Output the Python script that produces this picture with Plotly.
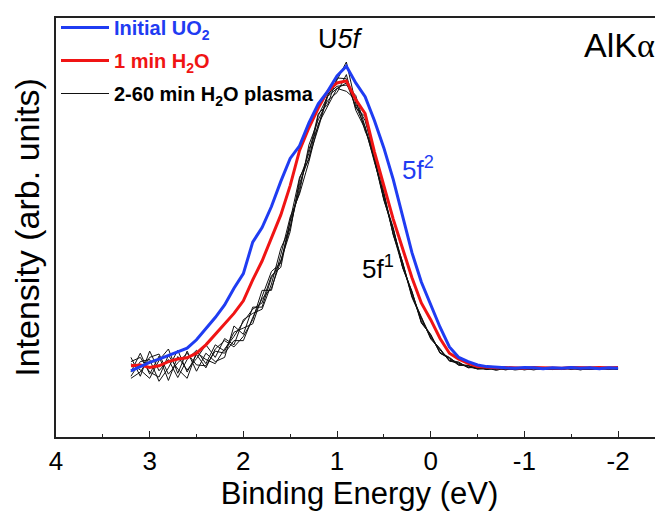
import plotly.graph_objects as go

binding_energy = [3.2, 3.1, 3.0, 2.9, 2.8, 2.7, 2.6, 2.5, 2.4, 2.3,
                  2.2, 2.1, 2.0, 1.9, 1.8, 1.7, 1.6, 1.5, 1.4, 1.3,
                  1.2, 1.1, 1.0, 0.9, 0.8, 0.7, 0.6, 0.5, 0.4, 0.3,
                  0.2, 0.1, 0.0, -0.1, -0.2, -0.3, -0.4, -0.5, -0.6, -0.7,
                  -0.8, -0.9, -1.0, -1.1, -1.2, -1.3, -1.4, -1.5, -1.6, -1.7,
                  -1.8, -1.9, -2.0]

initial_uo2 = [0.158, 0.168, 0.178, 0.186, 0.195, 0.203, 0.212, 0.232, 0.258, 0.285,
               0.315, 0.355, 0.390, 0.465, 0.500, 0.550, 0.610, 0.665, 0.695, 0.750,
               0.795, 0.825, 0.862, 0.885, 0.845, 0.812, 0.755, 0.690, 0.615, 0.530,
               0.440, 0.370, 0.315, 0.262, 0.215, 0.190, 0.180, 0.172, 0.168, 0.166,
               0.165, 0.164, 0.166, 0.165, 0.163, 0.165, 0.164, 0.166, 0.164, 0.165,
               0.163, 0.165, 0.164]

h2o_1min = [0.170, 0.172, 0.166, 0.170, 0.180, 0.186, 0.189, 0.200, 0.220, 0.245,
            0.270, 0.295, 0.325, 0.375, 0.420, 0.475, 0.530, 0.600, 0.684, 0.738,
            0.785, 0.825, 0.845, 0.850, 0.805, 0.772, 0.680, 0.600, 0.520, 0.450,
            0.380, 0.320, 0.280, 0.235, 0.200, 0.186, 0.176, 0.168, 0.166, 0.165,
            0.166, 0.165, 0.164, 0.166, 0.165, 0.165, 0.164, 0.166, 0.165, 0.165,
            0.166, 0.165, 0.166]

# mean of the 2-60 min H2O plasma spectra
plasma_mean = [0.170, 0.170, 0.170, 0.168, 0.170, 0.172, 0.175, 0.182, 0.190, 0.200,
               0.215, 0.235, 0.255, 0.290, 0.325, 0.370, 0.430, 0.510, 0.600, 0.672,
               0.752, 0.808, 0.842, 0.850, 0.800, 0.745, 0.665, 0.575, 0.490, 0.410,
               0.340, 0.280, 0.240, 0.205, 0.185, 0.175, 0.168, 0.165, 0.163, 0.163,
               0.163, 0.163, 0.163, 0.163, 0.163, 0.163, 0.163, 0.163, 0.163, 0.163,
               0.163, 0.163, 0.163]

# deviations (thousandths) of the individual plasma spectra from the mean
plasma_dev = [
    [20, -25, 35, -10, 15, -30, 10, 25, -15, 20,
     -10, 15, 5, -20, 10, 25, -15, 10, 20, -10,
     15, 5, 10, 45, -5, 10, 5, -8, 6, -4,
     8, -6, 3, -5, 4, -3, 2, -3, 1, -2,
     3, 0, -2, 2, -1, 3, -2, 1, -3, 2,
     0, -1, 2],
    [-15, 30, -20, 25, -35, 20, -15, 5, 30, -10,
     20, -15, 25, 5, -20, -5, 20, -10, -5, 15,
     -10, 10, -5, -10, 15, -5, -10, 6, -5, 8,
     -4, 5, -6, 3, -2, 4, -3, 2, -2, 3,
     -1, 2, -3, 1, 2, -2, 0, 3, -1, -2,
     1, 2, -1],
    [5, -10, -30, 15, 40, -20, 30, -25, 10, -20,
     -25, 30, -10, 20, -15, 10, -10, -20, 15, 5,
     20, -15, 15, 5, -15, 20, -5, -6, 10, -6,
     5, -8, 4, -3, 5, -2, 3, -1, 2, -4,
     2, -2, 1, -3, 2, 0, -2, 2, -1, 4,
     -2, 1, 0],
    [-25, 10, 15, -35, -5, 35, -20, 15, -25, 10,
     15, -20, -15, -10, 25, -20, 5, 15, -20, -15,
     -5, -20, -10, -25, 5, -15, 15, 10, -8, 5,
     -7, 3, -4, 6, -3, 1, -2, 3, -2, 1,
     -2, 1, 2, -1, -2, 1, 2, -2, 3, -1,
     2, -2, 1],
    [10, 20, -15, -25, 25, -10, -35, 20, -5, -25,
     -5, 5, 20, 15, -5, 15, -25, 5, -15, 25,
     5, -5, -20, 15, -20, -10, -5, -10, 5, 7,
     -3, 7, -2, 4, -4, 2, -1, -2, 3, -1,
     1, -3, 0, 2, -2, -1, 3, -1, 0, -2,
     1, 0, -2],
    [-30, -15, 20, 30, -20, 5, 25, -10, -20, 5,
     -15, -5, -25, -5, 5, -15, -10, -10, 5, -5,
     -15, 5, -10, -5, -10, -5, 0, 3, -6, -4,
     6, -4, 5, -5, 2, -4, 2, -2, -1, 2,
     -3, 2, -1, 0, 3, -2, -1, 2, -2, 1,
     -1, 2, 0],
]

x_ticks = [4, 3, 2, 1, 0, -1, -2]
x_tick_labels = ["4", "3", "2", "1", "0", "-1", "-2"]

BLUE = "#1f3cf2"
RED = "#f01414"
BLACK = "#111111"
FONT = "Arial, Liberation Sans, sans-serif"

fig = go.Figure()

for k, dev in enumerate(plasma_dev):
    ys = [m + d / 1000.0 for m, d in zip(plasma_mean, dev)]
    fig.add_trace(go.Scatter(
        x=binding_energy, y=ys, mode="lines",
        line=dict(color=BLACK, width=1),
        name="<b><span style='color:#000000'>2-60 min H<sub>2</sub>O plasma</span></b>",
        legendgroup="plasma", legendrank=3, showlegend=(k == 0),
    ))

fig.add_trace(go.Scatter(
    x=binding_energy, y=h2o_1min, mode="lines",
    line=dict(color=RED, width=3),
    name=f"<b><span style='color:{RED}'>1 min H<sub>2</sub>O</span></b>",
    legendgroup="h2o", legendrank=2,
))
fig.add_trace(go.Scatter(
    x=binding_energy, y=initial_uo2, mode="lines",
    line=dict(color=BLUE, width=3),
    name=f"<b><span style='color:{BLUE}'>Initial UO<sub>2</sub></span></b>",
    legendgroup="uo2", legendrank=1,
))

fig.add_annotation(x=0.96, y=0.95, text="U<i>5f</i>", showarrow=False,
                   font=dict(size=27, color="black", family=FONT))
fig.add_annotation(x=-2.02, y=0.935,
                   text="AlK<span style='font-family:Liberation Serif, serif'>α</span>",
                   showarrow=False, font=dict(size=34, color="black", family=FONT))
fig.add_annotation(x=0.14, y=0.64, text="5f<sup>2</sup>", showarrow=False,
                   font=dict(size=26, color=BLUE, family=FONT))
fig.add_annotation(x=0.56, y=0.405, text="5f<sup>1</sup>", showarrow=False,
                   font=dict(size=26, color="black", family=FONT))

# the page body adds an 8 px offset; margins compensate so the frame matches
fig.update_layout(
    width=655, height=503,
    margin=dict(l=48, r=0, t=5, b=74),
    paper_bgcolor="white", plot_bgcolor="white",
    font=dict(family=FONT, color="black"),
    legend=dict(x=0.0, y=1.025, xanchor="left", yanchor="top",
                bgcolor="rgba(0,0,0,0)", borderwidth=0,
                font=dict(size=20, family=FONT), itemwidth=48,
                tracegroupgap=4, traceorder="grouped"),
    showlegend=True,
)
fig.update_xaxes(
    range=[4, -2.48], showgrid=False, zeroline=False, automargin=False,
    showline=True, linecolor="#222222", linewidth=1.5, mirror=True,
    ticks="inside", ticklen=6, tickwidth=1.2, tickcolor="#222222",
    tickvals=x_ticks, ticktext=x_tick_labels,
    tickfont=dict(size=26, family=FONT),
    minor=dict(ticks="inside", ticklen=3, dtick=0.5, tickcolor="#222222", tickwidth=1.2),
    title=dict(text="Binding Energy (eV)", font=dict(size=31, family=FONT), standoff=4),
)
fig.update_yaxes(
    range=[0, 1], showgrid=False, zeroline=False, automargin=False,
    showline=True, linecolor="#222222", linewidth=1.5,
    showticklabels=False, ticks="",
    title=dict(text="Intensity (arb. units)", font=dict(size=34, family=FONT), standoff=8),
)

fig.write_html("out.html")
